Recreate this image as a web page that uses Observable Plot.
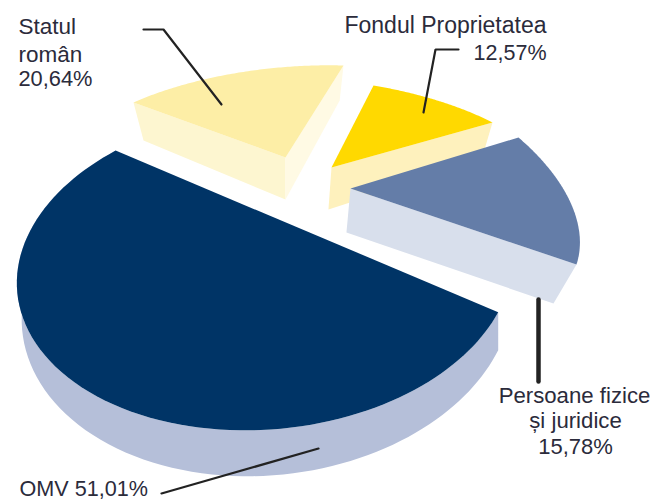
<!DOCTYPE html>
<html><head><meta charset="utf-8">
<script src="https://cdn.jsdelivr.net/npm/d3@7"></script>
<script src="https://cdn.jsdelivr.net/npm/@observablehq/plot@0.6"></script>
<style>body{margin:0;background:#fff}</style>
</head><body><div id="c"></div>
<script>
const names=["Statul român","Fondul Proprietatea","Persoane fizice și juridice","OMV"];
const shares=[20.64,12.57,15.78,51.01];
const labelLines=[["Statul","român"],["Fondul Proprietatea"],["Persoane fizice","și juridice"],["OMV"]];
const topColors=["#fdeea6","#ffd900","#647da8","#003466"];
const sideColors=["#fdf6d0","#fef1bd","#d8dfec","#b5bfd9"];
const TAU=2*Math.PI;
const pct=s=>s.toFixed(2).replace(".",",")+"%";

// Projection of the tilted, exploded pie: apex, two rim tips and the foreshortening of the sweep
const placement=[
 {a:[285,157],s:[133,102],e:[343,65],k:.77},
 {a:[331,167],s:[373,85],e:[492,122],k:.79},
 {a:[350,188],s:[518,137],e:[576,264],k:.93}
];
function rim(i,f){
 const P=placement[i],phi=shares[i]/100*TAU*P.k;
 const E1=[P.s[0]-P.a[0],P.s[1]-P.a[1]],E2=[P.e[0]-P.a[0],P.e[1]-P.a[1]];
 const W=[0,1].map(j=>(E2[j]-E1[j]*Math.cos(phi))/Math.sin(phi));
 const t=f*phi;
 return [0,1].map(j=>P.a[j]+E1[j]*Math.cos(t)+W[j]*Math.sin(t));
}
// Perspective projection of the large slice, whose sweep comes from its share
const H=[203.9,-209.2,305.2,82.9,68.8,235.9,22.906,-257.883,.999];
function bigRim(f){
 const t=f*H[8]*shares[3]/100*TAU,c=Math.cos(t),s=Math.sin(t),w=H[6]/1000*c+H[7]/1000*s+1;
 return [(H[0]*c+H[1]*s+H[2])/w,(H[3]*c+H[4]*s+H[5])/w];
}
const depth=[
 q=>[q[0]-.066*(q[0]-285),q[1]+42+.075*(q[1]-157)],
 q=>[q[0]-.05*(q[0]-270),q[1]+42+.1*(q[1]-167)],
 q=>[q[0]-.084*(q[0]-302),q[1]+44-.066*(q[1]-188)],
 q=>[q[0]-.01*(q[0]-498),q[1]+38+.067*(q[1]-312)]
];
const poly=(pts,fill)=>Plot.line(pts,{x:d=>d[0],y:d=>d[1],fill,stroke:"none"});
const face=(i,A,B,fill)=>poly([A,B,depth[i](B),depth[i](A)],fill);
const sample=fn=>d3.range(0,97).map(k=>fn(k/96));

const marks=[];
marks.push(
 face(0,placement[0].a,placement[0].s,sideColors[0]),
 face(0,placement[0].a,placement[0].e,"#fffae4"),
 poly([placement[0].a,...sample(f=>rim(0,f))],topColors[0]),
 face(1,placement[1].a,placement[1].e,sideColors[1]),
 poly([placement[1].a,...sample(f=>rim(1,f))],topColors[1]),
 face(2,placement[2].a,placement[2].e,sideColors[2]),
 poly([placement[2].a,...sample(f=>rim(2,f))],topColors[2])
);
const barc=sample(bigRim);
marks.push(poly([...barc,...barc.map(depth[3]).reverse()],sideColors[3]),poly(barc,topColors[3]));

// Leader lines
[
 {pts:[[143,29],[163,29],[221,104]],w:2.2},
 {pts:[[458,49],[435,49],[423,112]],w:2.2},
 {pts:[[538,299],[538,381]],w:4.5},
 {pts:[[161,493],[318,448]],w:2.2}
].forEach(l=>marks.push(Plot.line(l.pts,{x:d=>d[0],y:d=>d[1],stroke:"#222",strokeWidth:l.w,strokeLinejoin:"miter"})));

// Labels (y is the text baseline)
const rows=[
 {t:labelLines[0][0],x:18,y:33,a:"start",s:22.5},{t:labelLines[0][1],x:18,y:61,a:"start",s:22.5},{t:pct(shares[0]),x:18,y:85,a:"start",s:21.8},
 {t:labelLines[1][0],x:546,y:32,a:"end",s:23},{t:pct(shares[1]),x:546,y:59,a:"end",s:21.5},
 {t:labelLines[2][0],x:574,y:402,a:"middle",s:22.2},{t:labelLines[2][1],x:575,y:427,a:"middle",s:22.2},{t:pct(shares[2]),x:575,y:453,a:"middle",s:22},
 {t:labelLines[3][0]+" "+pct(shares[3]),x:19,y:495,a:"start",s:21.6}
];
rows.forEach(r=>marks.push(Plot.text([r],{x:"x",y:d=>d.y-.32*d.s,text:"t",textAnchor:r.a,fontSize:r.s,fontFamily:"Liberation Sans",fill:"#2b2b3b"})));

document.getElementById("c").append(Plot.plot({width:654,height:499,margin:0,
 x:{domain:[0,654],axis:null},y:{domain:[0,499],range:[0,499],axis:null},marks}));
</script></body></html>
